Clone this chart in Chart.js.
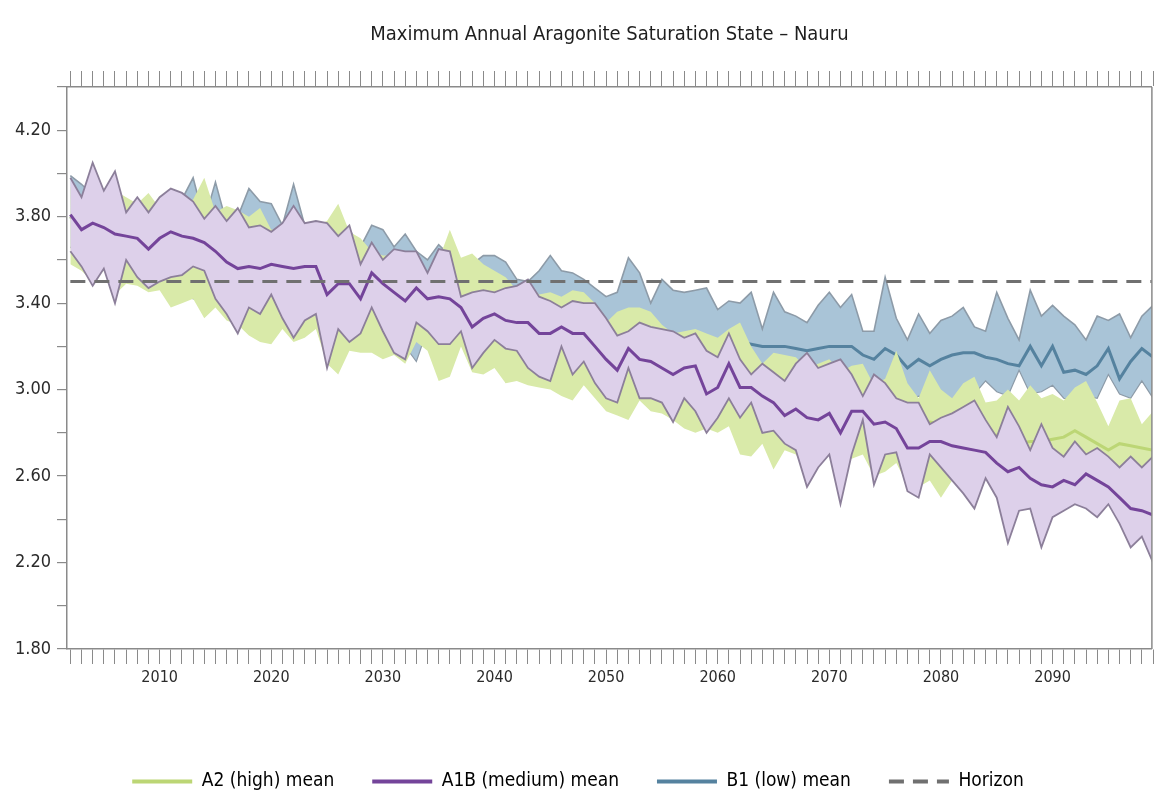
<!DOCTYPE html>
<html>
<head>
<meta charset="utf-8">
<title>Maximum Annual Aragonite Saturation State – Nauru</title>
<script src="https://cdn.jsdelivr.net/npm/chart.js@4.4.1/dist/chart.umd.min.js"></script>
<style>
  html, body { margin: 0; padding: 0; background: #fff; }
  #wrap { width: 1157px; height: 804px; }
</style>
</head>
<body>
<div id="wrap"><canvas id="aragoniteChart"></canvas></div>
<script>
// one value per year, 2002 .. 2099
const years = Array.from({ length: 98 }, (_, i) => 2002 + i);

const xTickLabels = [2010, 2020, 2030, 2040, 2050, 2060, 2070, 2080, 2090];
const yTickValues = [1.8, 2.0, 2.2, 2.4, 2.6, 2.8, 3.0, 3.2, 3.4, 3.6, 3.8, 4.0, 4.2, 4.4];
const yTickLabels = [1.8, 2.2, 2.6, 3.0, 3.4, 3.8, 4.2];
const horizonLevel = 3.5;

// A1B (medium)
const a1bHigh = [
  3.98, 3.89, 4.05, 3.92, 4.01, 3.82, 3.89, 3.82,
  3.89, 3.93, 3.91, 3.87, 3.79, 3.85, 3.78, 3.84, 3.75, 3.76,
  3.73, 3.77, 3.85, 3.77, 3.78, 3.77, 3.71, 3.76, 3.58, 3.68,
  3.60, 3.65, 3.64, 3.64, 3.54, 3.65, 3.64, 3.43, 3.45, 3.46,
  3.45, 3.47, 3.48, 3.51, 3.43, 3.41, 3.38, 3.41, 3.40, 3.40,
  3.33, 3.25, 3.27, 3.31, 3.29, 3.28, 3.27, 3.24, 3.26, 3.18,
  3.15, 3.26, 3.14, 3.07, 3.12, 3.08, 3.04, 3.12, 3.17, 3.10,
  3.12, 3.14, 3.07, 2.97, 3.07, 3.03, 2.96, 2.94, 2.94, 2.84,
  2.87, 2.89, 2.92, 2.95, 2.86, 2.78, 2.92, 2.83, 2.72, 2.84,
  2.73, 2.69, 2.76, 2.70, 2.73, 2.69, 2.64, 2.69, 2.64, 2.69
];
const a1bMean = [
  3.81, 3.74, 3.77, 3.75, 3.72, 3.71, 3.70, 3.65,
  3.70, 3.73, 3.71, 3.70, 3.68, 3.64, 3.59, 3.56, 3.57, 3.56,
  3.58, 3.57, 3.56, 3.57, 3.57, 3.44, 3.49, 3.49, 3.42, 3.54,
  3.49, 3.45, 3.41, 3.47, 3.42, 3.43, 3.42, 3.38, 3.29, 3.33,
  3.35, 3.32, 3.31, 3.31, 3.26, 3.26, 3.29, 3.26, 3.26, 3.20,
  3.14, 3.09, 3.19, 3.14, 3.13, 3.10, 3.07, 3.10, 3.11, 2.98,
  3.01, 3.12, 3.01, 3.01, 2.97, 2.94, 2.88, 2.91, 2.87, 2.86,
  2.89, 2.80, 2.90, 2.90, 2.84, 2.85, 2.82, 2.73, 2.73, 2.76,
  2.76, 2.74, 2.73, 2.72, 2.71, 2.66, 2.62, 2.64, 2.59, 2.56,
  2.55, 2.58, 2.56, 2.61, 2.58, 2.55, 2.50, 2.45, 2.44, 2.42
];
const a1bLow = [
  3.64, 3.57, 3.48, 3.56, 3.40, 3.60, 3.52, 3.47,
  3.50, 3.52, 3.53, 3.57, 3.55, 3.42, 3.35, 3.26, 3.38, 3.35,
  3.44, 3.33, 3.24, 3.32, 3.35, 3.10, 3.28, 3.22, 3.26, 3.38,
  3.27, 3.17, 3.14, 3.31, 3.27, 3.21, 3.21, 3.27, 3.10, 3.17,
  3.23, 3.19, 3.18, 3.10, 3.06, 3.04, 3.20, 3.07, 3.13, 3.03,
  2.96, 2.94, 3.10, 2.96, 2.96, 2.94, 2.85, 2.96, 2.90, 2.80,
  2.87, 2.96, 2.87, 2.94, 2.80, 2.81, 2.75, 2.72, 2.55, 2.64,
  2.70, 2.47, 2.70, 2.86, 2.56, 2.70, 2.71, 2.53, 2.50, 2.70,
  2.64, 2.58, 2.52, 2.45, 2.59, 2.50, 2.29, 2.44, 2.45, 2.27,
  2.41, 2.44, 2.47, 2.45, 2.41, 2.47, 2.38, 2.27, 2.32, 2.20
];

// A2 (high)
const a2High = [
  3.94, 3.86, 3.96, 3.90, 3.92, 3.89, 3.86, 3.91,
  3.84, 3.86, 3.85, 3.88, 3.98, 3.82, 3.85, 3.83, 3.80, 3.84,
  3.74, 3.75, 3.80, 3.74, 3.76, 3.78, 3.86, 3.73, 3.70, 3.64,
  3.62, 3.62, 3.62, 3.58, 3.52, 3.60, 3.74, 3.61, 3.63, 3.58,
  3.55, 3.52, 3.46, 3.49, 3.44, 3.45, 3.43, 3.46, 3.45, 3.40,
  3.31, 3.36, 3.38, 3.38, 3.36, 3.30, 3.26, 3.27, 3.28, 3.26,
  3.24, 3.28, 3.31, 3.20, 3.12, 3.17, 3.16, 3.15, 3.10, 3.12,
  3.14, 3.08, 3.11, 3.12, 3.02, 3.05, 3.18, 3.03, 2.96, 3.09,
  3.00, 2.96, 3.03, 3.06, 2.94, 2.95, 3.00, 2.95, 3.02, 2.96,
  2.98, 2.95, 3.01, 3.04, 2.94, 2.83, 2.95, 2.96, 2.84, 2.90
];
const a2Mean = [
  3.80, 3.75, 3.76, 3.74, 3.72, 3.71, 3.69, 3.66,
  3.69, 3.71, 3.70, 3.69, 3.66, 3.63, 3.58, 3.56, 3.56, 3.55,
  3.56, 3.55, 3.54, 3.55, 3.54, 3.44, 3.48, 3.47, 3.42, 3.50,
  3.46, 3.43, 3.40, 3.44, 3.40, 3.41, 3.39, 3.35, 3.28, 3.31,
  3.32, 3.29, 3.28, 3.27, 3.23, 3.23, 3.25, 3.22, 3.21, 3.16,
  3.12, 3.08, 3.15, 3.12, 3.10, 3.08, 3.06, 3.08, 3.08, 2.99,
  3.01, 3.08, 3.01, 3.00, 2.97, 2.95, 2.92, 2.94, 2.91, 2.90,
  2.92, 2.86, 2.92, 2.92, 2.88, 2.88, 2.87, 2.83, 2.84, 2.85,
  2.84, 2.83, 2.82, 2.80, 2.78, 2.79, 2.77, 2.75, 2.76, 2.76,
  2.77, 2.78, 2.81, 2.78, 2.75, 2.72, 2.75, 2.74, 2.73, 2.72
];
const a2Low = [
  3.58, 3.55, 3.50, 3.55, 3.44, 3.49, 3.48, 3.45,
  3.46, 3.38, 3.40, 3.42, 3.33, 3.38, 3.32, 3.30, 3.25, 3.22,
  3.21, 3.28, 3.22, 3.24, 3.28, 3.12, 3.07, 3.18, 3.17, 3.17,
  3.14, 3.16, 3.12, 3.22, 3.18, 3.04, 3.06, 3.20, 3.08, 3.07,
  3.10, 3.03, 3.04, 3.02, 3.01, 3.00, 2.97, 2.95, 3.02, 2.96,
  2.90, 2.88, 2.86, 2.95, 2.90, 2.89, 2.86, 2.82, 2.80, 2.82,
  2.80, 2.83, 2.70, 2.69, 2.75, 2.63, 2.72, 2.70, 2.62, 2.65,
  2.72, 2.66, 2.68, 2.70, 2.60, 2.62, 2.66, 2.56, 2.55, 2.58,
  2.50, 2.58, 2.56, 2.53, 2.60, 2.55, 2.45, 2.52, 2.50, 2.42,
  2.48, 2.50, 2.52, 2.50, 2.47, 2.50, 2.45, 2.40, 2.45, 2.42
];

// B1 (low)
const b1High = [
  3.99, 3.95, 3.90, 3.86, 3.90, 3.80, 3.85, 3.80,
  3.85, 3.90, 3.88, 3.98, 3.78, 3.96, 3.77, 3.80, 3.93, 3.87,
  3.86, 3.76, 3.95, 3.76, 3.76, 3.74, 3.70, 3.74, 3.66, 3.76,
  3.74, 3.66, 3.72, 3.64, 3.60, 3.67, 3.62, 3.60, 3.58, 3.62,
  3.62, 3.59, 3.51, 3.50, 3.55, 3.62, 3.55, 3.54, 3.51, 3.47,
  3.43, 3.45, 3.61, 3.54, 3.40, 3.51, 3.46, 3.45, 3.46, 3.47,
  3.37, 3.41, 3.40, 3.45, 3.28, 3.45, 3.36, 3.34, 3.31, 3.39,
  3.45, 3.38, 3.44, 3.27, 3.27, 3.52, 3.33, 3.23, 3.35, 3.26,
  3.32, 3.34, 3.38, 3.29, 3.27, 3.45, 3.33, 3.23, 3.46, 3.34,
  3.39, 3.34, 3.30, 3.23, 3.34, 3.32, 3.35, 3.24, 3.34, 3.39
];
const b1Mean = [
  3.80, 3.76, 3.77, 3.74, 3.73, 3.72, 3.70, 3.68,
  3.70, 3.72, 3.71, 3.70, 3.67, 3.66, 3.62, 3.60, 3.60, 3.58,
  3.59, 3.57, 3.58, 3.56, 3.56, 3.50, 3.52, 3.50, 3.46, 3.52,
  3.49, 3.47, 3.45, 3.48, 3.44, 3.45, 3.44, 3.41, 3.36, 3.38,
  3.39, 3.37, 3.36, 3.35, 3.33, 3.33, 3.34, 3.32, 3.31, 3.28,
  3.26, 3.24, 3.28, 3.26, 3.25, 3.24, 3.22, 3.24, 3.23, 3.20,
  3.22, 3.21, 3.22, 3.21, 3.20, 3.20, 3.20, 3.19, 3.18, 3.19,
  3.20, 3.20, 3.20, 3.16, 3.14, 3.19, 3.16, 3.10, 3.14, 3.11,
  3.14, 3.16, 3.17, 3.17, 3.15, 3.14, 3.12, 3.11, 3.20, 3.11,
  3.20, 3.08, 3.09, 3.07, 3.11, 3.19, 3.05, 3.13, 3.19, 3.15
];
const b1Low = [
  3.66, 3.60, 3.52, 3.58, 3.45, 3.60, 3.54, 3.50,
  3.52, 3.50, 3.48, 3.42, 3.54, 3.45, 3.38, 3.32, 3.40, 3.37,
  3.42, 3.35, 3.30, 3.30, 3.37, 3.18, 3.30, 3.26, 3.28, 3.36,
  3.30, 3.22, 3.20, 3.13, 3.28, 3.24, 3.24, 3.26, 3.14, 3.18,
  3.20, 3.04, 3.20, 3.14, 3.10, 3.09, 3.18, 3.10, 3.12, 3.06,
  3.02, 3.00, 3.08, 3.02, 3.02, 3.00, 2.96, 3.00, 2.98, 2.95,
  2.96, 2.98, 2.96, 2.97, 2.95, 2.96, 2.98, 2.96, 2.97, 2.95,
  2.97, 2.98, 2.96, 2.97, 2.98, 2.96, 2.97, 2.95, 2.97, 2.96,
  2.96, 2.95, 2.97, 2.98, 3.04, 2.99, 2.97, 3.09, 2.98, 2.99,
  3.02, 2.96, 2.95, 2.97, 2.96, 3.07, 2.98, 2.96, 3.04, 2.96
];

const FONT = "'Liberation Sans Narrow', 'DejaVu Sans Condensed', 'Liberation Sans', sans-serif";

const COLORS = {
  a2Fill: "#d9eaa9",
  a2Line: "#bcd675",
  a1bFill: "#ddd0ea",
  a1bEdge: "#8c7f9a",
  a1bLine: "#74449a",
  b1Fill: "#a9c4d7",
  b1Edge: "#8d9ba8",
  b1Line: "#55829f",
  horizon: "#707070",
  axis: "#8a8a8a",
  text: "#2b2b2b"
};

function toPoints(values) {
  return years.map((yr, i) => ({ x: yr, y: values[i] }));
}

function lineSet(label, values, opts) {
  return Object.assign({
    label: label,
    data: toPoints(values),
    pointRadius: 0,
    tension: 0,
    fill: false,
    borderWidth: 0
  }, opts);
}

// higher "order" is drawn first (underneath)
const datasets = [
  lineSet("B1 high", b1High, { order: 9, borderColor: COLORS.b1Edge, borderWidth: 1.6, backgroundColor: COLORS.b1Fill, fill: "+1" }),
  lineSet("B1 low", b1Low, { order: 8, borderColor: COLORS.b1Edge, borderWidth: 1.2 }),
  lineSet("B1 (low) mean", b1Mean, { order: 7, borderColor: COLORS.b1Line, borderWidth: 3 }),
  lineSet("A2 high", a2High, { order: 6, borderColor: "rgba(0,0,0,0)", backgroundColor: COLORS.a2Fill, fill: "+1" }),
  lineSet("A2 low", a2Low, { order: 5, borderColor: "rgba(0,0,0,0)" }),
  lineSet("A2 (high) mean", a2Mean, { order: 4, borderColor: COLORS.a2Line, borderWidth: 3 }),
  lineSet("A1B high", a1bHigh, { order: 3, borderColor: COLORS.a1bEdge, borderWidth: 1.8, backgroundColor: COLORS.a1bFill, fill: "+1" }),
  lineSet("A1B low", a1bLow, { order: 2, borderColor: COLORS.a1bEdge, borderWidth: 1.8 }),
  lineSet("A1B (medium) mean", a1bMean, { order: 1, borderColor: COLORS.a1bLine, borderWidth: 3 }),
  lineSet("Horizon", years.map(() => horizonLevel), { order: 0, borderColor: COLORS.horizon, borderWidth: 3, borderDash: [15, 9] })
];

const legendOrder = ["A2 (high) mean", "A1B (medium) mean", "B1 (low) mean", "Horizon"];

const frameRight = {
  id: "frameRight",
  afterDraw(chart) {
    const { ctx, chartArea } = chart;
    ctx.save();
    ctx.strokeStyle = COLORS.axis;
    ctx.lineWidth = 1.5;
    ctx.beginPath();
    ctx.moveTo(chartArea.right, chartArea.top);
    ctx.lineTo(chartArea.right, chartArea.bottom);
    ctx.stroke();
    ctx.restore();
  }
};

Chart.defaults.font.family = FONT;
Chart.defaults.color = COLORS.text;

const yearTicks = axis => { axis.ticks = years.map(v => ({ value: v })); };

new Chart(document.getElementById("aragoniteChart"), {
  type: "line",
  data: { datasets: datasets },
  options: {
    responsive: true,
    maintainAspectRatio: false,
    animation: false,
    layout: { padding: { left: 0, right: 1, top: 0, bottom: 3 } },
    scales: {
      x: {
        type: "linear",
        position: "bottom",
        min: 2001.7,
        max: 2098.9,
        afterBuildTicks: yearTicks,
        afterFit: s => { s.height = 85; },
        ticks: {
          autoSkip: false,
          maxRotation: 0,
          padding: 4,
          font: { size: 16 },
          color: COLORS.text,
          callback: v => xTickLabels.includes(v) ? String(v) : ""
        },
        grid: { drawOnChartArea: false, drawTicks: true, tickLength: 15, color: COLORS.axis, lineWidth: 1 },
        border: { display: true, color: COLORS.axis, width: 1.5 }
      },
      xTop: {
        type: "linear",
        position: "top",
        min: 2001.7,
        max: 2098.9,
        afterBuildTicks: yearTicks,
        afterFit: s => { s.height = 20; },
        ticks: { autoSkip: false, maxRotation: 0, callback: () => "" },
        grid: { drawOnChartArea: false, drawTicks: true, tickLength: 16, color: COLORS.axis, lineWidth: 1 },
        border: { display: true, color: COLORS.axis, width: 1.5 }
      },
      y: {
        min: 1.8,
        max: 4.4,
        afterBuildTicks: axis => { axis.ticks = yTickValues.map(v => ({ value: v })); },
        afterFit: s => { s.width = 67; },
        ticks: {
          autoSkip: false,
          padding: 6,
          font: { size: 18 },
          color: COLORS.text,
          callback: v => yTickLabels.includes(v) ? v.toFixed(2) : ""
        },
        grid: { drawOnChartArea: false, drawTicks: true, tickLength: 10, color: COLORS.axis, lineWidth: 1.2 },
        border: { display: true, color: COLORS.axis, width: 1.5 }
      }
    },
    plugins: {
      title: {
        display: true,
        fullSize: false,
        text: "Maximum Annual Aragonite Saturation State – Nauru",
        color: "#1e1e1e",
        font: { size: 20, weight: "normal" },
        padding: { top: 23, bottom: 20 }
      },
      legend: {
        position: "bottom",
        labels: {
          usePointStyle: true,
          pointStyleWidth: 60,
          padding: 38,
          font: { size: 19 },
          color: COLORS.text,
          generateLabels: chart => legendOrder.map(name => {
            const i = chart.data.datasets.findIndex(d => d.label === name);
            const ds = chart.data.datasets[i];
            return {
              text: name,
              datasetIndex: i,
              pointStyle: "line",
              strokeStyle: ds.borderColor,
              fillStyle: ds.borderColor,
              lineWidth: 4,
              lineDash: ds.borderDash || [],
              hidden: false
            };
          })
        }
      },
      tooltip: { enabled: false }
    }
  },
  plugins: [frameRight]
});
</script>
</body>
</html>
